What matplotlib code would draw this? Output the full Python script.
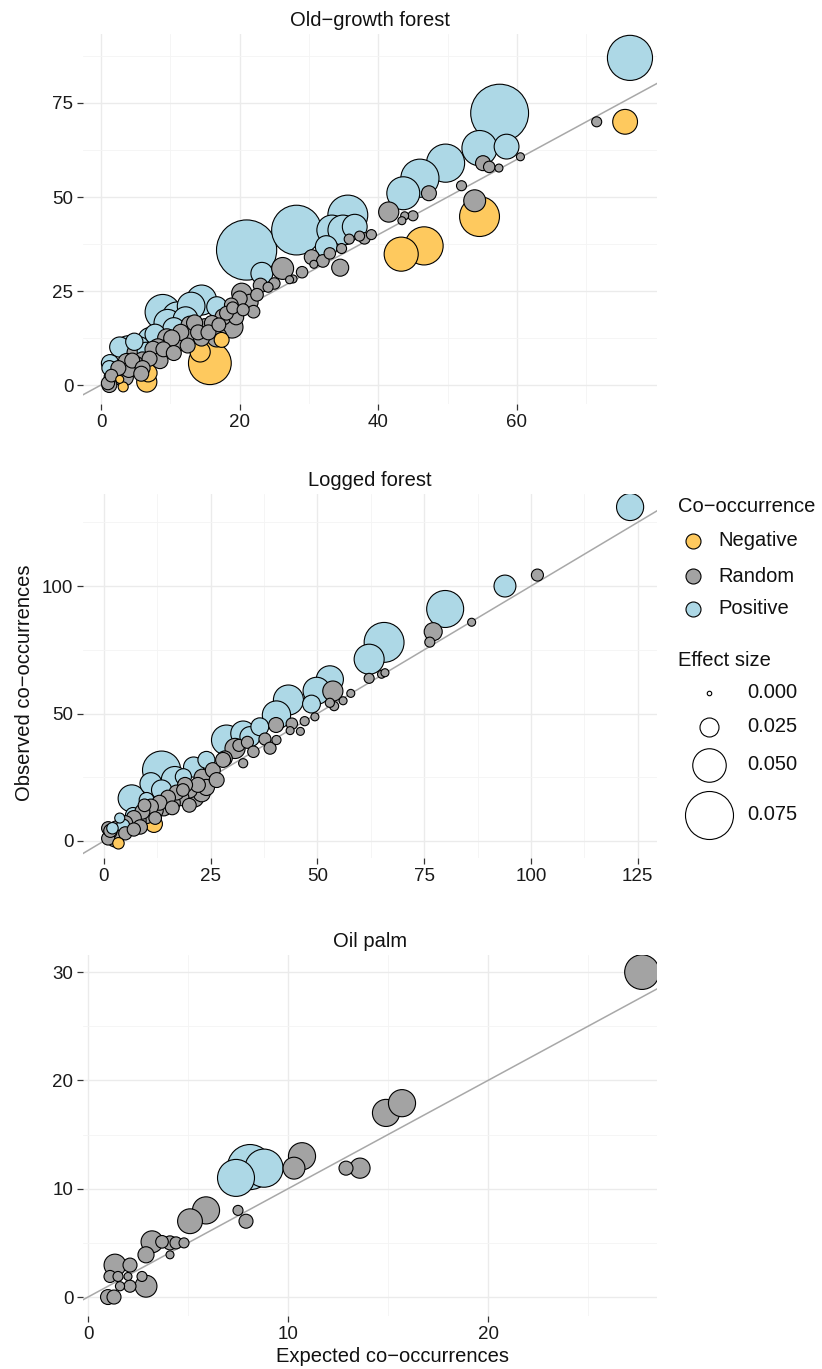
import numpy as np
import matplotlib
matplotlib.use("Agg")
import matplotlib.pyplot as plt

plt.rcParams['font.family'] = ['Liberation Sans', 'DejaVu Sans']

# ---------------- data ----------------
# Old-growth forest: (expected, observed, effect size)
og_pos_x = [76.3, 57.5, 58.5, 54.6, 49.7, 46.0, 43.6, 35.6, 33.3, 34.9, 36.6, 32.5, 28.2, 21.0, 23.2,
            14.5, 16.7, 13.0, 11.0, 8.9, 9.6, 7.1, 5.6, 3.9, 2.7, 1.3, 6.5, 1.2, 10.5, 12.2, 7.8, 4.8]
og_pos_y = [87.0, 72.3, 63.4, 63.0, 59.0, 55.0, 51.0, 45.2, 41.2, 41.2, 42.1, 36.8, 41.2, 35.9, 29.7,
            22.6, 20.8, 21.0, 18.1, 19.4, 16.5, 12.0, 10.1, 9.8, 10.1, 5.8, 9.0, 4.5, 15.0, 17.5, 13.5, 11.5]
og_pos_e = [.070, .092, .035, .053, .058, .058, .049, .061, .044, .044, .035, .030, .078, .096, .030,
            .044, .027, .040, .044, .053, .039, .035, .027, .035, .027, .022, .023, .018, .030, .035, .027, .022]

og_neg_x = [75.6, 54.6, 46.6, 43.3, 15.7, 14.3, 17.4, 6.8, 6.6, 3.2, 2.7]
og_neg_y = [70.0, 44.8, 37.0, 34.8, 5.8, 8.8, 12.0, 3.2, 0.8, -0.5, 1.5]
og_neg_e = [.035, .061, .058, .051, .066, .027, .018, .023, .027, .0095, .006]

og_rnd_x = [71.5, 55.1, 57.4, 60.5, 47.3, 41.5, 43.8, 43.4, 53.9, 34.5, 30.7, 30.4, 34.7, 35.8, 37.3,
            26.2, 27.7, 27.2, 24.1, 20.3, 18.8, 19.0, 18.1, 18.9, 17.6, 16.7, 16.0, 15.0, 14.0, 13.0,
            12.0, 11.0, 10.0, 9.0, 8.0, 7.0, 6.0, 5.0, 4.0, 3.0, 2.0, 1.0, 1.5, 2.5, 3.5,
            4.5, 5.2, 3.7, 1.7, 1.2, 6.0, 7.5, 8.5, 9.5, 10.5, 11.5, 12.5, 13.5, 14.5, 15.5,
            17.0, 19.5, 20.5, 21.5, 22.5, 22.0, 23.0, 25.0, 29.0, 32.0, 33.0, 38.0, 39.0, 45.0, 52.0,
            56.0, 20.0, 12.8, 10.2, 8.2, 5.8]
og_rnd_y = [70.0, 59.0, 57.7, 60.7, 51.0, 46.0, 45.0, 43.7, 49.0, 31.2, 32.1, 34.0, 36.3, 38.8, 39.6,
            31.0, 28.2, 28.0, 26.0, 24.4, 21.3, 20.5, 19.1, 15.4, 18.1, 12.8, 16.5, 15.5, 14.0, 13.5,
            12.5, 11.0, 10.5, 9.5, 8.0, 7.0, 6.5, 5.5, 4.0, 3.5, 2.0, 0.5, 2.5, 4.5, 2.0,
            6.5, 8.5, 6.1, 2.1, 0.0, 4.5, 9.5, 6.5, 12.5, 8.5, 14.0, 10.5, 16.5, 12.5, 14.0,
            16.0, 18.0, 20.0, 22.0, 24.0, 19.5, 26.5, 27.0, 30.0, 33.0, 35.0, 39.0, 40.0, 45.0, 53.0,
            58.0, 23.0, 16.0, 12.5, 10.0, 3.0]
og_rnd_e = [.0095, .018, .006, .006, .018, .027, .006, .006, .030, .0216, .006, .018, .0095, .0095, .0095,
            .030, .006, .006, .0095, .027, .016, .013, .016, .030, .020, .027, .018, .020, .018, .020,
            .022, .020, .022, .018, .020, .018, .022, .020, .018, .020, .018, .015, .014, .018, .020,
            .018, .027, .022, .022, .018, .018, .020, .020, .024, .018, .020, .018, .020, .020, .018,
            .016, .018, .013, .020, .014, .014, .017, .012, .012, .014, .012, .012, .0095, .0095, .0095,
            .012, .018, .022, .020, .022, .018]

# Logged forest
lf_pos_x = [123.2, 93.9, 79.9, 65.6, 62.1, 52.9, 49.8, 48.6, 43.2, 40.4, 36.5, 32.6, 34.2, 28.7, 24.0,
            21.0, 18.6, 13.5, 16.6, 13.5, 6.5, 10.0, 6.8, 3.7, 4.5, 2.0, 11.0]
lf_pos_y = [131.0, 100.0, 91.0, 77.9, 71.3, 63.4, 58.9, 53.7, 55.3, 49.4, 44.8, 42.2, 40.9, 39.6, 31.8,
            29.0, 25.2, 27.8, 23.9, 20.0, 16.7, 16.1, 10.2, 9.0, 6.0, 5.0, 22.5]
lf_pos_e = [.039, .030, .056, .061, .044, .039, .039, .023, .044, .041, .023, .035, .027, .044, .0216,
            .027, .020, .058, .039, .027, .039, .018, .018, .0095, .015, .012, .030]

lf_neg_x = [11.7, 3.4]
lf_neg_y = [6.7, -0.9]
lf_neg_e = [.0216, .012]

lf_rnd_x = [101.5, 86.1, 77.1, 76.3, 62.1, 65.0, 65.8, 57.8, 53.6, 53.9, 52.9, 49.4, 40.3, 43.6, 37.7,
            40.4, 38.9, 30.7, 31.6, 33.6, 28.3, 32.6, 21.3, 22.9, 25.5, 26.4, 27.9, 23.0, 22.0, 24.0,
            20.0, 19.0, 18.0, 17.0, 16.0, 15.0, 14.0, 13.0, 12.0, 11.0, 10.0, 9.0, 8.0, 7.0, 6.0,
            5.0, 4.0, 3.0, 2.0, 1.5, 1.0, 2.5, 3.5, 5.0, 7.0, 8.5, 1.0, 1.5, 9.5, 12.0,
            16.0, 18.5, 20.0, 35.0, 44.0, 47.0, 56.0, 46.0]
lf_rnd_y = [104.3, 85.8, 82.1, 78.0, 63.8, 65.4, 66.0, 57.9, 58.8, 52.9, 54.2, 48.7, 45.5, 43.3, 40.0,
            39.6, 36.4, 36.3, 37.5, 38.7, 32.4, 30.5, 16.7, 18.7, 27.8, 23.9, 31.8, 25.0, 22.0, 21.0,
            20.0, 22.0, 17.0, 19.0, 15.0, 17.0, 13.0, 15.0, 12.0, 13.5, 10.0, 11.5, 8.0, 9.0, 6.0,
            7.0, 4.0, 5.0, 2.0, 3.5, 1.0, 0.5, 2.5, 3.0, 4.5, 5.5, 5.0, 4.0, 14.0, 9.0,
            13.0, 20.0, 14.0, 35.0, 46.0, 47.0, 55.0, 43.0]
lf_rnd_e = [.013, .006, .0233, .0095, .0095, .006, .006, .006, .027, .008, .008, .006, .018, .006, .013,
            .008, .013, .027, .013, .013, .018, .008, .0216, .0216, .018, .018, .018, .020, .018, .020,
            .020, .018, .020, .018, .020, .018, .020, .018, .020, .018, .020, .018, .020, .018, .020,
            .018, .020, .018, .020, .015, .015, .017, .017, .015, .015, .017, .015, .015, .014, .014,
            .016, .014, .016, .012, .012, .008, .006, .006]

# Oil palm
op_pos_x = [7.4, 8.8, 8.1]
op_pos_y = [11.0, 11.9, 12.0]
op_pos_e = [.056, .058, .070]

op_rnd_x = [27.7, 14.9, 15.7, 10.3, 10.7, 12.9, 13.6, 7.5, 7.9, 5.9, 5.1, 3.2, 2.9, 4.1, 3.7,
            4.4, 4.8, 4.1, 1.35, 2.1, 1.1, 1.5, 2.0, 2.7, 2.9, 2.1, 1.6, 1.0, 1.3]
op_rnd_y = [30.0, 17.0, 17.9, 11.9, 13.0, 11.9, 11.9, 8.0, 7.0, 8.0, 7.0, 5.1, 3.9, 5.0, 5.1,
            5.0, 5.0, 3.9, 2.95, 2.95, 1.9, 1.9, 1.9, 1.9, 1.0, 1.0, 1.0, 0.0, 0.0]
op_rnd_e = [.052, .039, .039, .030, .039, .0164, .027, .0095, .0164, .039, .035, .030, .020, .0164, .014,
            .013, .0095, .006, .030, .0164, .013, .0095, .006, .0095, .030, .013, .008, .018, .0164]

categories = ["Negative", "Random", "Positive"]
size_breaks = [0.000, 0.025, 0.050, 0.075]

# ---------------- style ----------------
COLORS = {"Negative": "#FEC95E", "Random": "#A3A3A3", "Positive": "#ADD8E6"}
W, H, DPI = 822, 1369, 100
PX2PT = 72.0 / DPI


def diam_px(e):
    return 4.5 + 580.0 * np.asarray(e, dtype=float)


def s_of(e):
    return (diam_px(e) * PX2PT) ** 2


fig = plt.figure(figsize=(W / DPI, H / DPI), dpi=DPI)
fig.patch.set_facecolor("white")


def px_axes(left, top, right, bottom):
    return fig.add_axes([left / W, 1 - bottom / H, (right - left) / W, (bottom - top) / H])


def style_axes(ax, xlim, ylim, xmaj, xmin, ymaj, ymin, title):
    ax.set_xlim(*xlim)
    ax.set_ylim(*ylim)
    ax.set_xticks(xmaj)
    ax.set_xticks(xmin, minor=True)
    ax.set_yticks(ymaj)
    ax.set_yticks(ymin, minor=True)
    ax.set_xticklabels([str(v) for v in xmaj])
    ax.set_yticklabels([str(v) for v in ymaj])
    ax.grid(which="major", color="#EBEBEB", linewidth=1.0, zorder=0)
    ax.grid(which="minor", color="#F4F4F4", linewidth=0.6, zorder=0)
    ax.set_axisbelow(True)
    for sp in ax.spines.values():
        sp.set_visible(False)
    ax.tick_params(which="major", length=4, width=0.9, color="#333333",
                   labelsize=13.5, labelcolor="#1a1a1a", pad=3)
    ax.tick_params(which="minor", length=0)
    ax.set_title(title, fontsize=14.5, color="#111111", pad=6)
    ax.axline((0, 0), slope=1, color="#A8A8A8", linewidth=1.1, zorder=1)


def draw_points(ax, groups):
    xs, ys, es, cs = [], [], [], []
    for cat, (x, y, e) in groups.items():
        xs += list(x)
        ys += list(y)
        es += list(e)
        cs += [COLORS[cat]] * len(x)
    order = np.argsort(-np.asarray(es), kind="stable")
    xs = np.asarray(xs)[order]
    ys = np.asarray(ys)[order]
    es = np.asarray(es)[order]
    cs = [cs[i] for i in order]
    ax.scatter(xs, ys, s=s_of(es), c=cs, edgecolors="black", linewidths=0.8, zorder=3)


# Top panel
ax1 = px_axes(83, 34, 657, 404)
style_axes(ax1, (-2.6, 80.2), (-5.05, 93.35), [0, 20, 40, 60], [10, 30, 50, 70],
           [0, 25, 50, 75], [12.5, 37.5, 62.5, 87.5], "Old\u2212growth forest")
draw_points(ax1, {"Positive": (og_pos_x, og_pos_y, og_pos_e),
                  "Random": (og_rnd_x, og_rnd_y, og_rnd_e),
                  "Negative": (og_neg_x, og_neg_y, og_neg_e)})

# Middle panel
ax2 = px_axes(83, 494, 657, 858)
style_axes(ax2, (-4.9, 129.5), (-6.67, 136.1), [0, 25, 50, 75, 100, 125],
           [12.5, 37.5, 62.5, 87.5, 112.5], [0, 50, 100], [25, 75, 125], "Logged forest")
draw_points(ax2, {"Positive": (lf_pos_x, lf_pos_y, lf_pos_e),
                  "Random": (lf_rnd_x, lf_rnd_y, lf_rnd_e),
                  "Negative": (lf_neg_x, lf_neg_y, lf_neg_e)})

# Bottom panel
ax3 = px_axes(83, 955, 657, 1316)
style_axes(ax3, (-0.25, 28.45), (-1.75, 31.58), [0, 10, 20], [5, 15, 25],
           [0, 10, 20, 30], [5, 15, 25], "Oil palm")
draw_points(ax3, {"Positive": (op_pos_x, op_pos_y, op_pos_e),
                  "Random": (op_rnd_x, op_rnd_y, op_rnd_e)})

# Axis titles
fig.text(392 / W, 1 - 1357 / H, "Expected co\u2212occurrences", ha="center", va="center",
         fontsize=14.5, color="#111111")
fig.text(25 / W, 1 - 683 / H, "Observed co\u2212occurrences", ha="center", va="center",
         rotation=90, fontsize=14.5, color="#111111")

# Legend (overlay axes in pixel coordinates)
lax = fig.add_axes([0, 0, 1, 1], zorder=5)
lax.set_xlim(0, W)
lax.set_ylim(H, 0)
lax.axis("off")
lax.patch.set_alpha(0)

lax.text(678, 507, "Co\u2212occurrence", fontsize=14.5, va="center", ha="left", color="#111111")
for i, cat in enumerate(categories):
    yy = [541, 576, 609][i]
    lax.scatter([693], [yy], s=(15 * PX2PT) ** 2, c=COLORS[cat], edgecolors="black", linewidths=0.8)
    lax.text(718, yy, cat, fontsize=14.5, va="center", ha="left", color="#111111")

lax.text(678, 660, "Effect size", fontsize=14.5, va="center", ha="left", color="#111111")
for i, b in enumerate(size_breaks):
    yy = [693, 727, 765, 815][i]
    lax.scatter([709], [yy], s=s_of(b), c="white", edgecolors="black", linewidths=0.8)
    lax.text(747, yy, f"{b:.3f}", fontsize=14.5, va="center", ha="left", color="#111111")

fig.savefig("out.png", dpi=DPI, facecolor="white")
